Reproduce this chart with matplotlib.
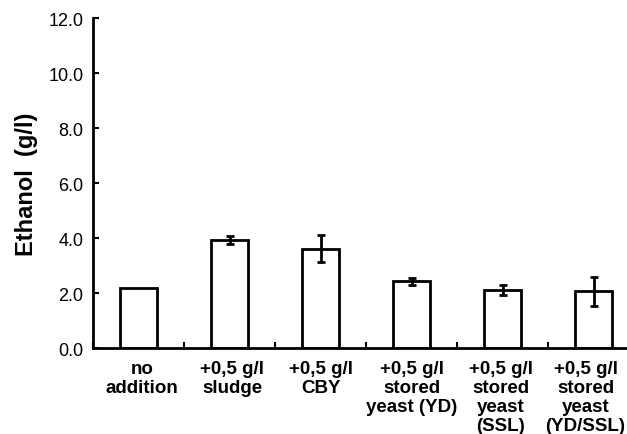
import matplotlib
matplotlib.use("Agg")
import matplotlib.pyplot as plt
import numpy as np

categories = ["no\naddition", "+0,5 g/l\nsludge", "+0,5 g/l\nCBY",
              "+0,5 g/l\nstored\nyeast (YD)", "+0,5 g/l\nstored\nyeast\n(SSL)",
              "+0,5 g/l\nstored\nyeast\n(YD/SSL)"]
ethanol = [2.18, 3.93, 3.62, 2.43, 2.12, 2.06]
errors = [0.0, 0.15, 0.50, 0.12, 0.19, 0.54]
yticks = [0.0, 2.0, 4.0, 6.0, 8.0, 10.0, 12.0]
ytick_labels = ["0.0", "2.0", "4.0", "6.0", "8.0", "10.0", "12.0"]
label_shift = [0.04, 0.03, 0.0, 0.0, -0.02, -0.09]

plt.rcParams['font.family'] = ['Liberation Sans', 'DejaVu Sans']

fig = plt.figure(figsize=(6.27, 4.35), dpi=100)
ax = fig.add_axes([0.1486, 0.1977, 0.871, 0.7575])

x = np.arange(len(categories))
ax.bar(x, ethanol, width=0.41, color="white", edgecolor="black", linewidth=2.0, zorder=2)
yerr_mask = [e if e > 0 else np.nan for e in errors]
ax.errorbar(x, ethanol, yerr=yerr_mask, fmt="none", ecolor="black",
            elinewidth=2.0, capsize=3, capthick=2.0, zorder=3)

ax.set_xlim(-0.5, len(categories) - 0.5)
ax.set_ylim(0, 12)
ax.set_yticks(yticks)
ax.set_yticklabels(ytick_labels, fontsize=13)
ax.tick_params(axis="y", direction="in", length=4, width=1.5, pad=7)

# category boundary ticks on x axis
ax.set_xticks(np.arange(len(categories) + 1) - 0.5, minor=False)
ax.set_xticklabels([])
ax.tick_params(axis="x", direction="in", length=4, width=1.5)
for xi, lab, sh in zip(x, categories, label_shift):
    ax.text(xi + sh, -0.45, lab, ha="center", va="top", fontsize=13.5, fontweight="bold",
            linespacing=1.14, transform=ax.transData)

for s in ["top", "right"]:
    ax.spines[s].set_visible(False)
for s in ["left", "bottom"]:
    ax.spines[s].set_linewidth(2.0)

fig.text(26 / 627, 1 - 184 / 435, "Ethanol  (g/l)", rotation=90, ha="center", va="center",
         fontsize=17, fontweight="bold")

fig.savefig("out.png", dpi=100)
